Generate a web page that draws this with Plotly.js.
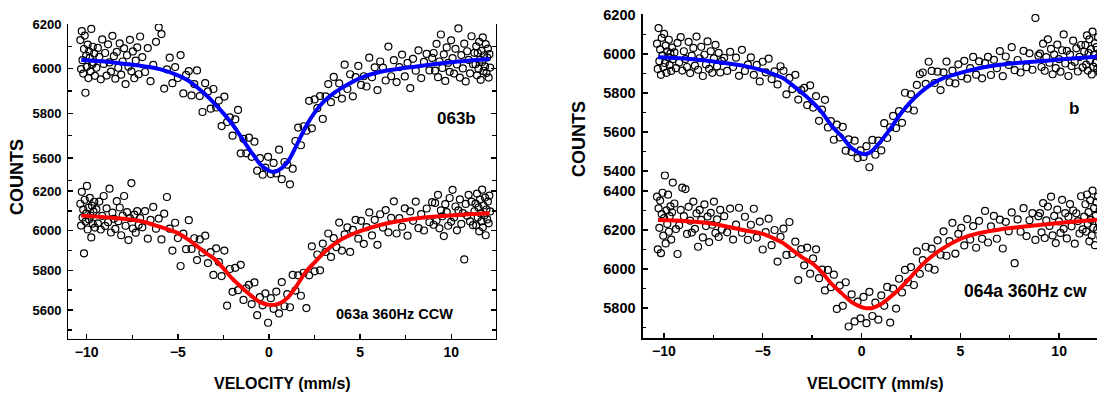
<!DOCTYPE html>
<html><head><meta charset="utf-8">
<script src="https://cdn.plot.ly/plotly-3.0.1.min.js"></script>
<style>html,body{margin:0;padding:0;overflow:hidden;background:#fff}#chart{width:1112px;height:394px}</style>
</head><body><div id="chart"></div>
<script>
// velocity (mm/s) of each channel, shared by all four spectra
const velocity = [
-10.35,-10.31,-10.27,-10.23,-10.19,-10.15,-10.11,-10.07,-10.03,-9.99,-9.95,-9.91,-9.87,-9.83,-9.79,-9.75,-9.71,-9.67,-9.63,-9.59,-9.55,
-9.47,-9.39,-9.31,-9.23,-9.15,-9.07,-8.99,-8.91,-8.83,-8.75,-8.67,-8.59,-8.51,-8.43,-8.35,-8.27,-8.19,-8.11,-8.03,-7.95,-7.87,-7.79,-7.71,-7.63,-7.55,-7.47,-7.39,-7.31,-7.23,-7.15,-7.07,
-6.95,-6.8,-6.65,-6.5,-6.35,-6.2,-6.05,-5.9,-5.75,-5.6,-5.45,-5.3,-5.15,-5.0,-4.85,-4.7,-4.55,-4.4,-4.25,-4.1,-3.95,-3.8,-3.65,-3.5,-3.35,-3.2,-3.05,-2.9,-2.75,-2.6,-2.45,-2.3,-2.15,-2.0,-1.85,-1.7,-1.55,-1.4,-1.25,-1.1,-0.95,-0.8,-0.65,-0.5,-0.35,-0.2,-0.05,0.1,0.25,0.4,0.55,0.7,0.85,1.0,1.15,1.3,1.45,1.6,1.75,1.9,2.05,2.2,2.35,2.5,2.65,2.8,2.95,3.1,3.25,3.4,3.55,3.7,3.85,4.0,4.15,4.3,4.45,4.6,4.75,4.9,5.05,5.2,5.35,5.5,5.65,5.8,5.95,6.1,6.25,6.4,6.55,6.7,6.85,7.0,7.15,7.3,7.45,7.6,7.75,7.9,8.05,8.2,8.35,8.5,8.65,8.8,8.95,
9.03,9.11,9.19,9.27,9.35,9.43,9.51,9.59,9.67,9.75,9.83,9.91,9.99,10.07,10.15,10.23,10.31,10.39,10.47,10.55,10.63,10.71,10.79,10.87,10.95,11.03,11.11,11.19,11.27,
11.33,11.37,11.41,11.45,11.49,11.53,11.57,11.61,11.65,11.69,11.73,11.77,11.81,11.85,11.89,11.93,11.97,12.01,12.05,12.09,12.13];

// measured counts, panel left-top (063b)
const counts063b = [
6128,5998,6168,6038,5978,6088,6148,5892,6058,6008,6108,5958,6078,6048,5988,6178,6018,6098,6028,6068,5968,
6004,6093,6053,5952,6131,6021,6070,5969,6109,6028,5987,6147,6056,5955,6075,6004,6113,5973,6032,6091,5931,6060,6009,6129,5988,6077,5957,6036,6095,5975,6144,
6052,5985,6092,5944,6017,6120,6185,6155,5911,5997,6049,5935,6007,5958,6061,5889,5972,5989,5880,5931,
5992,5877,5806,5935,5898,5821,5909,5826,5857,5743,5875,5761,5782,5700,5773,5815,5621,5686,5621,5691,
5605,5673,5543,5599,5525,5557,5605,5528,5578,5531,5637,5505,5582,5570,5482,5552,5676,5736,5657,5742,
5722,5856,5733,5862,5823,5877,5775,5876,5931,5850,5963,5886,5934,5866,6018,5909,5975,5876,5962,6012,
5927,5966,5920,6049,5962,6006,5904,6032,6005,5947,6099,5966,6038,5940,6007,6063,5965,6026,5913,6044,
5991,6082,5958,6030,6066,5992,6048,
6070,5991,6111,5962,6032,6153,6003,6064,5945,6095,6026,5986,6127,6047,5978,6089,6019,6180,5960,6061,6001,6112,5943,6078,6039,5979,6145,6020,6071,
6020,6100,5970,6070,6000,6120,6040,5950,6080,6030,6140,5990,6060,6010,6110,5980,6050,6090,5960,6065,6005];

// measured counts, panel left-bottom (063a 360Hz CCW)
const counts063a = [
6136,6026,6196,6066,6106,5886,6156,6046,6086,6226,6006,6116,6056,6166,6076,5966,6126,6036,6096,6146,6016,
6108,6037,6147,6006,6075,6175,6024,6113,6043,6212,5991,6091,6060,6009,6149,6048,6117,5977,6076,6175,6025,6094,5953,6063,6240,6011,6081,5990,6099,6029,6063,
6017,6099,5960,6055,6120,6010,6061,5956,6086,6170,6010,5900,6040,5963,5822,5985,5907,6053,5908,5962,
5852,5956,5890,5975,5837,5892,5777,5911,5842,5771,5900,5622,5807,5692,5813,5700,5828,5651,5709,5727,
5630,5739,5574,5665,5624,5684,5536,5660,5606,5693,5583,5741,5619,5680,5614,5777,5698,5775,5672,5788,
5610,5775,5921,5795,5880,5800,5935,5893,5986,5868,5963,5917,6041,5900,5981,6017,5893,6004,6055,5960,
6050,5934,6018,6092,5976,6055,5929,6083,6016,6104,5992,6065,6148,5986,6063,6020,6113,5975,6097,6050,
6147,6013,6084,6001,6112,6043,6144,
6030,6140,6051,6181,6012,6102,6073,5973,6134,6094,6025,6165,6045,6206,6066,6122,6002,6103,6158,6034,6089,5855,6135,6076,6181,6047,6147,6028,6098,
6137,6027,6187,6067,6117,5997,6157,6087,6047,6207,6017,6127,6077,6167,5977,6107,6057,6147,6037,6177,6097];

// measured counts, panel right-top (b)
const counts064b = [
6053,5923,6133,5963,6023,5893,6083,5993,5933,6103,5953,6043,5903,6013,5983,6073,5943,6003,5913,6033,5973,
6008,5927,6057,5956,6086,5915,6014,5974,5933,6062,5902,5991,6031,5940,6089,5919,5978,6037,5887,5996,5946,6065,5924,6014,5903,5977,6047,5936,6006,5905,5965,
5980,5913,6011,5933,5981,5888,6021,5913,5945,5982,5893,5944,5859,5960,5906,5976,5871,5911,5844,5937,
5914,5793,5877,5820,5893,5766,5814,5826,5738,5839,5725,5784,5657,5715,5765,5623,5656,5560,5638,5572,
5626,5504,5562,5497,5555,5466,5505,5472,5527,5419,5559,5483,5555,5505,5645,5569,5624,5682,5620,5707,
5647,5801,5720,5793,5710,5841,5896,5905,5847,5960,5913,5851,5909,5815,5906,5961,5855,5915,5849,5947,
5886,5965,5873,5927,5985,5894,5962,5875,5953,5985,5892,5970,5927,6015,5886,5987,5944,6035,5917,5969,
5905,6016,5932,6003,5919,6185,5991,
6002,5933,6053,5914,5984,6075,5955,6026,5896,5997,5927,6048,5973,5909,6019,6100,5951,6016,5887,5997,5938,6068,5959,6029,5910,5985,6046,5931,6012,
6045,5945,6095,5915,6005,6075,5965,6025,5895,6115,5935,5995,6055,5955,6035,5925,6085,5985,5905,6015,5975];

// measured counts, panel right-bottom (064a 360Hz cw)
const counts064a = [
6371,6101,6311,6211,6351,6081,6281,6391,6171,6261,6480,6131,6301,6231,6381,6191,6271,6321,6151,6291,6443,
6336,6205,6077,6224,6303,6417,6271,6410,6180,6319,6248,6187,6346,6206,6285,6114,6303,6252,6162,6331,6220,6269,6138,6288,6227,6346,6185,6254,6164,6303,6202,
6271,6188,6310,6151,6228,6314,6186,6268,6150,6227,6309,6161,6243,6100,6189,6258,6122,6200,6038,6165,
6207,6072,6241,6077,6140,5943,6102,6019,6110,5976,6054,6101,5953,5997,5890,5995,5907,5971,5795,5915,
5811,5932,5705,5870,5731,5833,5747,5857,5722,5883,5759,5828,5740,5865,5811,5908,5725,5899,5797,5950,
5880,5995,5932,6010,5918,6090,5975,6045,6114,6007,6104,5996,6147,6073,6193,6068,6143,6237,6079,6180,
6211,6121,6256,6151,6220,6109,6247,6155,6298,6136,6219,6272,6155,6253,6105,6242,6193,6290,6030,6254,
6191,6312,6169,6250,6287,6149,6271,
6287,6188,6338,6159,6249,6320,6221,6371,6172,6272,6133,6304,6244,6185,6355,6206,6287,6157,6268,6333,6219,6300,6130,6286,6246,6182,6373,6203,6269,
6332,6192,6382,6232,6292,6142,6352,6252,6172,6402,6212,6312,6122,6272,6342,6202,6372,6242,6302,6162,6282];

// fitted curves
const fitVelocity = [-10.3,-9,-8,-7,-6,-5,-4.5,-4,-3.5,-3,-2.5,-2,-1.5,-1,-0.5,0,0.25,0.5,1,1.5,2,2.5,3,3.5,4,5,6,7,8,9,10,11,12.1];
const fit063b = [6039,6032,6022,6012,5998,5970,5950,5920,5885,5845,5800,5750,5690,5630,5574,5543,5538,5544,5580,5655,5738,5803,5852,5887,5914,5958,5984,5998,6009,6020,6029,6036,6043];
const fit063a = [6076,6068,6060,6048,6020,5988,5960,5926,5890,5858,5810,5757,5714,5674,5640,5626,5626,5630,5660,5720,5790,5840,5888,5927,5958,5998,6026,6046,6061,6070,6077,6083,6088];
const fit064b = [5983,5977,5968,5955,5940,5915,5898,5878,5840,5800,5755,5700,5630,5577,5517,5489,5487,5500,5555,5622,5696,5756,5804,5842,5870,5903,5928,5945,5955,5963,5971,5979,5987];
const fit064a = [6251,6246,6238,6222,6200,6180,6160,6135,6097,6060,6030,5982,5922,5875,5830,5805,5799,5799,5820,5860,5905,5960,6015,6060,6098,6154,6185,6203,6215,6226,6236,6245,6254];

const panelLabels = ['063b', '063a 360Hz CCW', 'b', '064a 360Hz cw'];
const xTitle = 'VELOCITY (mm/s)';
const yTitle = 'COUNTS';

const FONT = 'Liberation Sans, Arial, Helvetica, sans-serif';
function pts(y, xa, ya) {
  return {x: velocity, y: y, xaxis: xa, yaxis: ya, type: 'scatter', mode: 'markers',
    marker: {symbol: 'circle-open', size: 7, color: '#000', line: {width: 1.2}},
    hoverinfo: 'x+y', showlegend: false, cliponaxis: true};
}
function fit(y, xa, ya, c) {
  return {x: fitVelocity, y: y, xaxis: xa, yaxis: ya, type: 'scatter', mode: 'lines',
    line: {color: c, width: 4, shape: 'spline', smoothing: 0.8}, showlegend: false};
}
const traces = [
  pts(counts063b, 'x', 'y'), fit(fit063b, 'x', 'y', '#0000ff'),
  pts(counts063a, 'x', 'y2'), fit(fit063a, 'x', 'y2', '#ff0000'),
  pts(counts064b, 'x3', 'y3'), fit(fit064b, 'x3', 'y3', '#0000ff'),
  pts(counts064a, 'x3', 'y4'), fit(fit064a, 'x3', 'y4', '#ff0000')
];

function yax(domain, range, anchor, size) {
  return {domain: domain, range: range, anchor: anchor, tick0: 0, dtick: 200, ticks: 'inside',
    ticklen: 5, tickwidth: 1.5, tickcolor: '#000', showgrid: false, zeroline: false,
    showline: true, linewidth: 1.5, linecolor: '#000', mirror: 'ticks', ticklabelstandoff: 3,
    minor: {dtick: 100, tick0: 0, ticks: 'inside', ticklen: 3.5, tickwidth: 1.5, tickcolor: '#000', showgrid: false},
    tickfont: {family: FONT, size: size, color: '#000', weight: 'bold'}};
}
function xax(domain, range, anchor, labels, side) {
  return {domain: domain, range: range, anchor: anchor, side: side, tick0: 0, dtick: 5, ticks: 'inside',
    ticklen: 5, tickwidth: 1.5, tickcolor: '#000', showgrid: false, zeroline: false,
    showline: true, linewidth: 1.5, linecolor: '#000', showticklabels: labels,
    minor: {dtick: 2.5, tick0: 0, ticks: 'inside', ticklen: 3.5, tickwidth: 1.5, tickcolor: '#000', showgrid: false},
    tickfont: {family: FONT, size: 14, color: '#000', weight: 'bold'}};
}
const leftX = [0.0616, 0.4460], rightX = [0.5782, 0.9951];
const layout = {
  width: 1112, height: 394, autosize: false,
  margin: {l: 0, r: 0, t: 0, b: 0, pad: 0},
  paper_bgcolor: '#fff', plot_bgcolor: 'rgba(0,0,0,0)', showlegend: false,
  xaxis: xax(leftX, [-11.0, 12.45], 'y2', true, 'bottom'),
  xaxis2: xax(leftX, [-11.0, 12.45], 'y', false, 'top'),
  xaxis3: xax(rightX, [-11.06, 12.4], 'y4', true, 'bottom'),
  xaxis4: xax(rightX, [-11.06, 12.4], 'y3', false, 'top'),
  yaxis: yax([0.5140, 0.9391], [5450, 6200], 'x', 13),
  yaxis2: yax([0.1396, 0.5680], [5454, 6305], 'x', 13),
  yaxis3: yax([0.5414, 0.9645], [5350, 6205], 'x3', 14.5),
  yaxis4: yax([0.1421, 0.5647], [5646, 6500], 'x3', 14.5),
  annotations: [
    {text: yTitle, x: 0.0153, y: 0.5508, textangle: -90, font: {size: 18}},
    {text: yTitle, x: 0.5207, y: 0.6472, textangle: -90, font: {size: 18}},
    {text: xTitle, x: 0.2536, y: 0.0279, font: {size: 16}},
    {text: xTitle, x: 0.7869, y: 0.0279, font: {size: 16}},
    {text: panelLabels[0], x: 0.4101, y: 0.7005, font: {size: 17}},
    {text: panelLabels[1], x: 0.3552, y: 0.2030, font: {size: 14.5}},
    {text: panelLabels[2], x: 0.9658, y: 0.7234, font: {size: 17}},
    {text: panelLabels[3], x: 0.9218, y: 0.2614, font: {size: 17.5}}
  ].map(a => Object.assign({xref: 'paper', yref: 'paper', showarrow: false, xanchor: 'center', yanchor: 'middle'}, a,
      {font: {family: FONT, size: a.font.size, color: '#000', weight: 'bold'}}))
};
Plotly.newPlot('chart', traces, layout, {displayModeBar: false, staticPlot: true});
</script></body></html>
